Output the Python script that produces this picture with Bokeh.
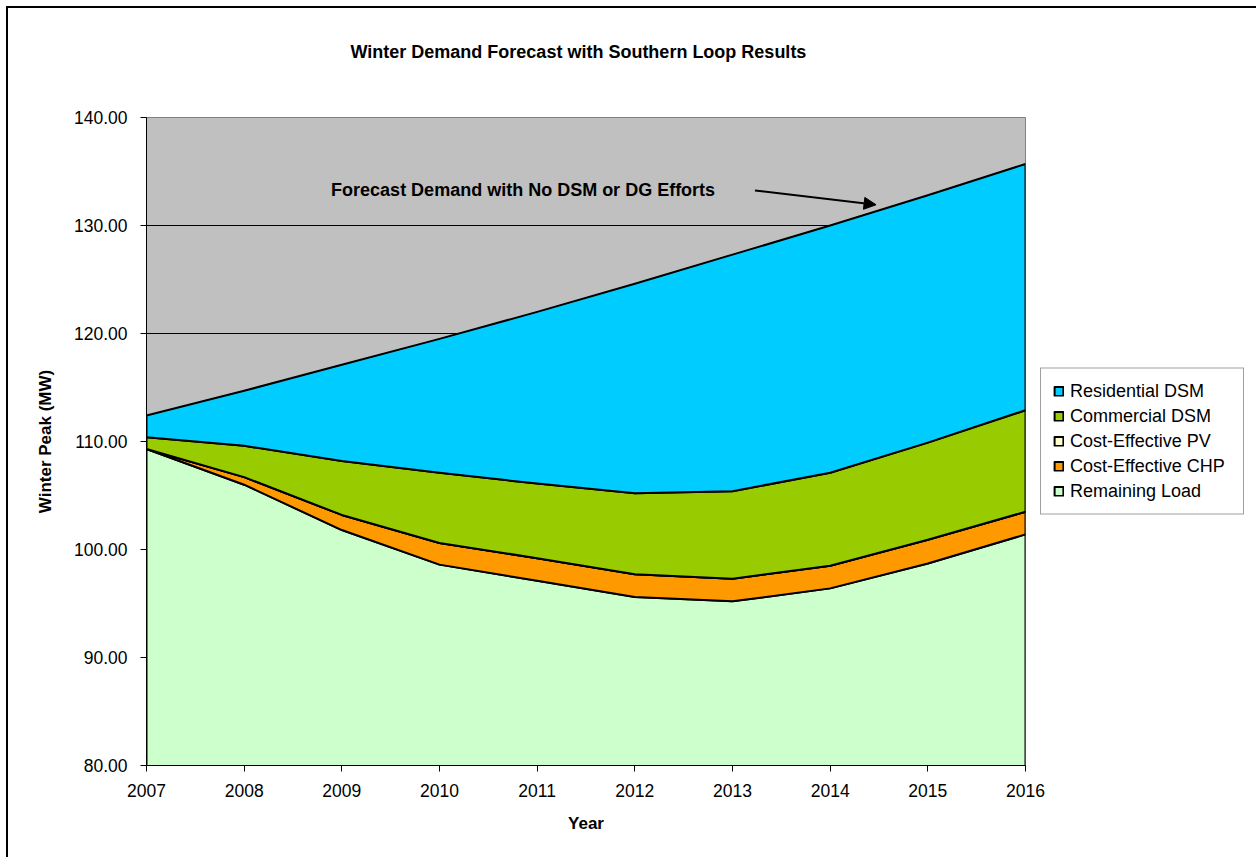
from bokeh.plotting import figure
from bokeh.models import (Range1d, FixedTicker, NumeralTickFormatter, Legend, LegendItem,
                          Label, Arrow, NormalHead, InlineStyleSheet, Title)
from bokeh.embed import file_html
from bokeh.resources import INLINE

years = [2007, 2008, 2009, 2010, 2011, 2012, 2013, 2014, 2015, 2016]
remaining_load = [109.3, 106.0, 101.8, 98.6, 97.1, 95.6, 95.2, 96.4, 98.7, 101.4]
cost_effective_chp = [0.0, 0.7, 1.4, 2.0, 2.1, 2.1, 2.1, 2.1, 2.2, 2.1]
cost_effective_pv = [0.0, 0.0, 0.0, 0.0, 0.0, 0.0, 0.0, 0.0, 0.0, 0.0]
commercial_dsm = [1.1, 2.9, 5.0, 6.5, 6.9, 7.5, 8.1, 8.6, 9.0, 9.4]
residential_dsm = [2.0, 5.1, 8.9, 12.4, 15.9, 19.4, 21.9, 22.9, 22.9, 22.8]

series = [
    ("Remaining Load", remaining_load, "#CCFFCC"),
    ("Cost-Effective CHP", cost_effective_chp, "#FF9900"),
    ("Cost-Effective PV", cost_effective_pv, "#FFFFCC"),
    ("Commercial DSM", commercial_dsm, "#99CC00"),
    ("Residential DSM", residential_dsm, "#00CCFF"),
]
y_ticks = [80, 90, 100, 110, 120, 130, 140]

FONT = "Liberation Sans"

border_css = InlineStyleSheet(css="""
:host { position: relative; }
:host::after {
  content: "";
  position: absolute;
  left: 6px; top: 6px; right: 1px; bottom: -20px;
  border: 2px solid black;
  pointer-events: none;
  z-index: 1000;
}
""")

p = figure(width=1256, height=857, output_backend="svg", toolbar_location=None,
           x_range=Range1d(2007, 2016), y_range=Range1d(80, 140),
           frame_width=879, frame_height=648,
           min_border_left=146, min_border_right=231, min_border_top=117, min_border_bottom=92,
           stylesheets=[border_css])
p.title = None

p.background_fill_color = "#C0C0C0"
p.border_fill_color = "white"
p.outline_line_color = "#808080"
p.outline_line_width = 1

p.xgrid.grid_line_color = None
p.ygrid.grid_line_color = "black"
p.ygrid.grid_line_width = 1

# stacked areas
renderers = {}
base = [0.0] * len(years)
for name, vals, color in series:
    top = [b + v for b, v in zip(base, vals)]
    xs = years + years[::-1]
    ys = top + base[::-1]
    r = p.patch(xs, ys, fill_color=color, line_color="black", line_width=2, line_join="round")
    renderers[name] = r
    base = top

# axes
for ax in (p.xaxis[0], p.yaxis[0]):
    ax.axis_line_color = "black"
    ax.axis_line_width = 1
    ax.major_tick_in = 0
    ax.major_tick_out = 6
    ax.major_tick_line_color = "black"
    ax.minor_tick_line_color = None
    ax.major_label_text_font = FONT
    ax.major_label_text_font_size = "17.5px"
    ax.major_label_text_color = "black"
    ax.axis_label_text_font = FONT
    ax.axis_label_text_font_size = "17px"
    ax.axis_label_text_font_style = "bold"
    ax.axis_label_text_color = "black"

p.xaxis.ticker = FixedTicker(ticks=years)
p.xaxis.formatter = NumeralTickFormatter(format="0")
p.xaxis.major_label_standoff = 12
p.xaxis.axis_label = "Year"
p.xaxis.axis_label_standoff = 14

p.yaxis.ticker = FixedTicker(ticks=y_ticks)
p.yaxis.formatter = NumeralTickFormatter(format="0.00")
p.yaxis.major_label_standoff = 13
p.yaxis.axis_label = "Winter Peak (MW)"
p.yaxis.axis_label_standoff = 16

# title (a blank spacer title sits between the real title and the frame)
spacer = Title(text=" ", text_font=FONT, text_font_size="18px", standoff=34)
main_title = Title(text="Winter Demand Forecast with Southern Loop Results",
                   text_font=FONT, text_font_size="18px", text_font_style="bold",
                   text_color="black", align="left", offset=204, standoff=0)
p.add_layout(spacer, "above")
p.add_layout(main_title, "above")

# annotation text and arrow
p.add_layout(Label(x=2008.89, y=133.33, text="Forecast Demand with No DSM or DG Efforts",
                   text_font=FONT, text_font_size="18px", text_font_style="bold",
                   text_baseline="middle", text_align="left", text_color="black"))
p.add_layout(Arrow(x_start=2013.23, y_start=133.24, x_end=2014.47, y_end=131.92,
                   line_color="black", line_width=2,
                   end=NormalHead(size=12, fill_color="black", line_color="black")))

# legend
order = ["Residential DSM", "Commercial DSM", "Cost-Effective PV", "Cost-Effective CHP", "Remaining Load"]
legend = Legend(items=[LegendItem(label=n, renderers=[renderers[n]]) for n in order],
                location="center_left", orientation="vertical")
legend.label_text_font = FONT
legend.label_text_font_size = "18px"
legend.label_text_color = "black"
legend.glyph_width = 11
legend.glyph_height = 11
legend.label_height = 20
legend.label_width = 161
legend.label_standoff = 6
legend.spacing = 4
legend.padding = 12
legend.margin = 15
legend.border_line_color = "#404040"
legend.border_line_width = 1
legend.background_fill_color = "white"
legend.background_fill_alpha = 1
p.add_layout(legend, "right")

open("out.html", "w").write(file_html(p, INLINE))
